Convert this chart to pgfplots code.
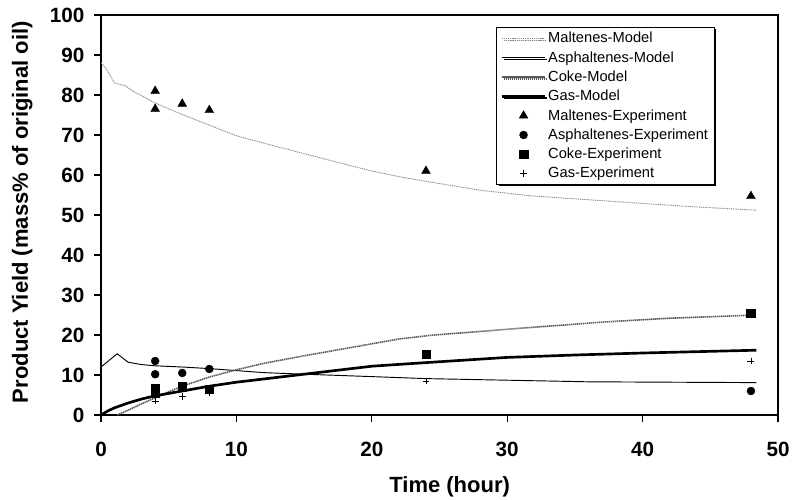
\documentclass[border=0pt]{standalone}
\usepackage{fontspec}
\setmainfont{Liberation Sans}
\usepackage{pgfplots}
\pgfplotsset{compat=1.18}
\usetikzlibrary{shadows}
\begin{document}
\begin{tikzpicture}
\begin{axis}[name=ax, scale only axis, width=507.75pt, height=300pt,
  xmin=0, xmax=50, ymin=0, ymax=100,
  xtick={0,10,...,50}, ytick={0,10,...,100},
  tick align=outside, xtick pos=left, ytick pos=left, major tick length=5pt,
  axis line style={line width=1.5pt}, tick style={line width=0.9pt, black},
  ticklabel style={font=\bfseries\fontsize{15.5}{18}\selectfont},
  /pgf/number format/assume math mode=true,
  xticklabel style={yshift=-12pt}, yticklabel style={xshift=-4pt},
  xlabel={Time (hour)}, ylabel={Product Yield (mass\% of original oil)},
  every axis x label/.style={at={(rel axis cs:0.515,0)}, anchor=center, yshift=-54pt,
    font=\bfseries\fontsize{16.5}{19}\selectfont},
  every axis y label/.style={at={(rel axis cs:0,0.507)}, xshift=-59pt, rotate=90, anchor=center,
    font=\bfseries\fontsize{16.5}{19}\selectfont},
  legend style={at={(0.584,0.97)}, anchor=north west, fill=white, draw=black, line width=0.8pt,
    drop shadow={shadow xshift=1.3pt, shadow yshift=-1.3pt, opacity=1, fill=black},
    font=\fontsize{11}{13}\selectfont, inner xsep=3pt, inner ysep=3pt, row sep=4pt,
    nodes={inner xsep=1.5pt, inner ysep=0.5pt}},
  legend cell align=left,
  legend image code/.code={\draw[#1] (0pt,0pt) -- (32pt,0pt);},
  marks/.style={only marks, legend image code/.code={\draw[mark repeat=2, mark phase=2, ##1] plot coordinates {(0pt,0pt) (16pt,0pt) (32pt,0pt)};}},
]
% model curves
\addplot[draw=black!45, line width=0.7pt, dash pattern=on 0.8pt off 0.6pt] coordinates {
  (0,88) (0.4,86.5) (1.0,83) (1.8,82.3) (2.4,80.9) (4,78) (5.8,75.4) (8.5,71.8) (10,69.8)
  (12.2,67.8) (14.7,65.6) (17.2,63.4) (20,61) (22,59.6) (24.2,58.3) (28,56.2) (31.7,54.8)
  (37.8,53.4) (43,52.2) (48.4,51.2)};
\addplot[black, line width=0.7pt] coordinates {
  (0,12) (1.2,15.3) (2,13.2) (3,12.6) (4,12.3) (6,12) (8,11.6) (10,11.1) (12,10.6) (15,10.2)
  (20,9.6) (24,9.1) (30,8.7) (36,8.3) (42,8.2) (48.4,8.1)};
\addplot[draw=black!65, line width=1.2pt, dash pattern=on 1pt off 0.5pt] coordinates {
  (1.2,0) (2,1.2) (3,2.8) (4,4.3) (5,5.8) (6,7.2) (8,9.5) (10,11.3) (12,12.9) (15,14.8)
  (18,16.6) (22,19) (24.3,19.9) (29.5,21.3) (33,22.2) (36.9,23.2) (42,24.2) (48.4,25)};
\addplot[black, line width=2pt] coordinates {
  (0,0) (0.5,1.0) (1,1.8) (2,3.0) (3,4.0) (4,4.8) (6,6.0) (8,7.2) (10,8.2) (12,9.0) (15,10.2)
  (20,12.2) (24,13.1) (30,14.4) (35,15.0) (40,15.5) (48.4,16.2)};
% experiments
\addplot[marks, mark=triangle*, mark size=3.8pt, mark options={fill=black, draw=black, line width=0.3pt}] coordinates {
  (4,81) (4,76.5) (6,77.8) (8,76.2) (24,61) (48,54.7)};
\addplot[marks, mark=*, mark size=3pt, mark options={fill=black, draw=black, line width=0.3pt}] coordinates {
  (4,13.5) (4,10.2) (6,10.5) (8,11.5) (48,6)};
\addplot[marks, mark=square*, mark size=3.2pt, mark options={fill=black, draw=black, line width=0.3pt}] coordinates {
  (4,6.7) (4,5.5) (6,7.1) (8,6.4) (24,15.2) (48,25.5)};
\addplot[marks, mark=+, mark size=2.6pt, mark options={draw=black, line width=0.6pt}] coordinates {
  (4,3.5) (6,4.7) (8,5.5) (24,8.5) (48,13.5)};
\legend{Maltenes-Model, Asphaltenes-Model, Coke-Model, Gas-Model,
  Maltenes-Experiment, Asphaltenes-Experiment, Coke-Experiment, Gas-Experiment}
\end{axis}
\pgfresetboundingbox
\path[use as bounding box] ([shift={(-75.75pt,-63pt)}]ax.south west) rectangle ([shift={(10.5pt,11.25pt)}]ax.north east);
\end{tikzpicture}
\end{document}
